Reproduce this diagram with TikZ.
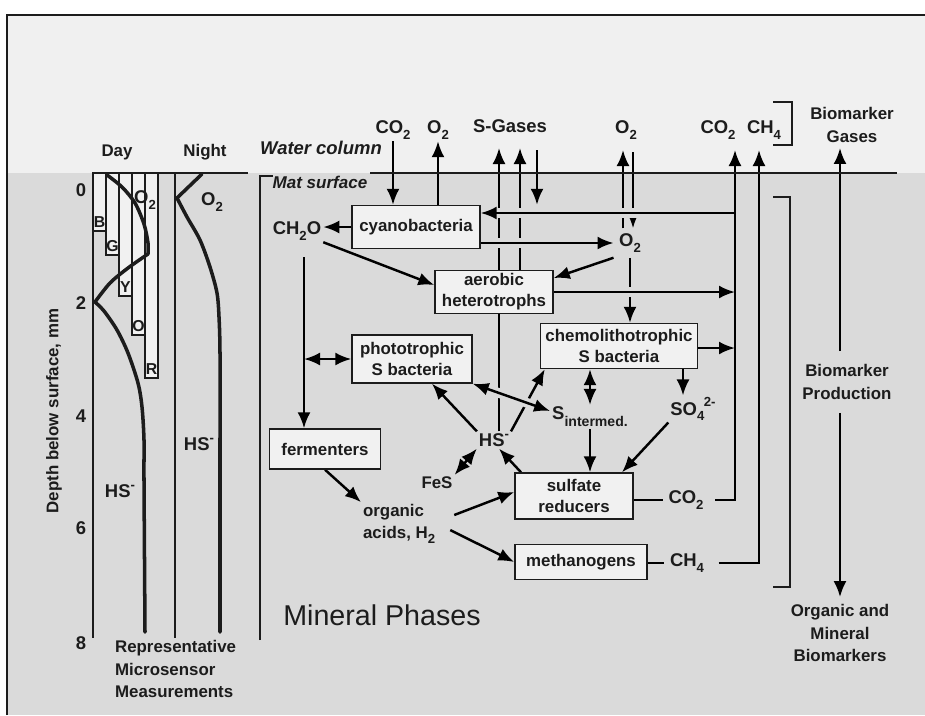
\documentclass[tikz,border=0pt]{standalone}
\usepackage{fontspec}
\setmainfont{Liberation Sans}
\usetikzlibrary{arrows.meta,backgrounds}
\pgfdeclarelayer{lines}
\pgfsetlayers{background,lines,main}

\definecolor{skygray}{HTML}{F0F0F0}
\definecolor{matgray}{HTML}{DADADA}
\definecolor{boxfill}{HTML}{F1F1F1}
\definecolor{ink}{HTML}{1C1C1C}

\newcommand\subs[1]{\raisebox{-0.55ex}{\fontsize{7.5}{8}\selectfont #1}}
\newcommand\sups[1]{\raisebox{0.85ex}{\fontsize{7.5}{8}\selectfont #1}}

\tikzset{
  box/.style={draw=ink, fill=boxfill, line width=0.8pt, align=center, inner sep=0pt,
    font=\bfseries\fontsize{9.6}{12}\selectfont},
  lbl/.style={inner sep=1pt, align=center, font=\bfseries\fontsize{9.6}{12.7}\selectfont},
  lblbig/.style={inner sep=1pt, font=\bfseries\fontsize{10.5}{12}\selectfont},
  num/.style={inner sep=1pt, font=\bfseries\fontsize{10.5}{12}\selectfont},
  flow/.style={line width=1.4pt, -{Latex[length=3.2mm,width=2.6mm]}},
  twoway/.style={line width=1.4pt, {Latex[length=3.2mm,width=2.6mm]}-{Latex[length=3.2mm,width=2.6mm]}},
  link/.style={line width=1.4pt},
  halo/.style={preaction={draw=matgray, line width=5.5pt, -}},
  profile/.style={line width=2pt, line join=round, line cap=round},
  bar/.style={draw=ink, fill=boxfill, line width=0.6pt},
}

\begin{document}
\begin{tikzpicture}[x=0.2mm, y=-0.2mm, color=ink]
  \useasboundingbox (0,0) rectangle (925,715);

  % Background
  \begin{pgfonlayer}{background}
    \fill[white] (0,0) rectangle (925,715);
    \fill[skygray] (7,15) rectangle (925,173);
    \fill[matgray] (7,173) rectangle (925,715);
  \end{pgfonlayer}
  \draw[line width=1.1pt] (7,715) -- (7,15) -- (925,15);

  % Mat surface
  \draw[line width=1.3pt] (93,173) -- (248,173);
  \draw[line width=1.1pt] (370,173) -- (897,173);
  \draw[line width=1.3pt] (260,640) -- (260,176) -- (273,176);

  % Light penetration bars
  \foreach \x/\d/\c in {93/231/B,106/255/G,119/296/Y,132/335/O,145/378/R}{
    \draw[bar] (\x,173) rectangle (\x+13,\d);
    \node (bar\c) at (\x+6.5,\d-9) [lbl, font=\bfseries\fontsize{9}{10}\selectfont] {\c};
  }

  % Profile panels
  \draw[line width=1.3pt] (93,173) -- (93,638);
  \draw[line width=1.3pt] (175,173) -- (175,638);

  % Day profile
  \draw[profile] plot[smooth] coordinates {(107,175) (122,187) (135,203) (144,224) (148,243) (148,254)};
  \draw[profile] plot[smooth] coordinates {(148,254) (128,268) (110,283) (95,302)};
  \draw[profile] plot[smooth] coordinates {(95,302) (104,311) (117,330) (128,353) (138,383) (142,407) (144,440) (144,480) (145,632)};

  % Night profile
  \draw[profile] (202,174) -- (177,198);
  \draw[profile] plot[smooth] coordinates {(177,198) (187,217) (200,240) (210,267) (217,293) (219,317) (220,353) (220,450) (220,632)};

  % Depth axis and panel labels
  \foreach \v/\y in {0/190,2/303,4/416,6/528,8/643}
    \node (depth\v) at (81,\y) [num] {\v};
  \node (depthtitle) at (54,411) [lbl, rotate=90] {Depth below surface, mm};
  \node (day) at (117,152) [lbl] {Day};
  \node (night) at (205,152) [lbl] {Night};
  \node (o2day) at (145,200) [lblbig] {O\subs{2}};
  \node (o2night) at (212,202) [lblbig] {O\subs{2}};
  \node (hsday) at (120,491) [lblbig] {HS\sups{-}};
  \node (hsnight) at (199,444) [lblbig] {HS\sups{-}};
  \node (sensors) at (113,669) [lbl, anchor=west, align=left] {Representative\\Microsensor\\Measurements};

  % Water column labels
  \node (water) at (321,148) [font=\bfseries\itshape\fontsize{10.5}{12}\selectfont] {Water column};
  \node (matsurf) at (320,182) [font=\bfseries\itshape\fontsize{9.7}{12}\selectfont] {Mat surface};
  \node (co2a) at (393,130) [lblbig] {CO\subs{2}};
  \node (o2a) at (438,130) [lblbig] {O\subs{2}};
  \node (sgas) at (510,126) [lblbig] {S-Gases};
  \node (o2b) at (626,130) [lblbig] {O\subs{2}};
  \node (co2b) at (718,130) [lblbig] {CO\subs{2}};
  \node (ch4b) at (764,130) [lblbig] {CH\subs{4}};
  \node (gases) at (852,125) [lbl, inner sep=3pt] {Biomarker\\Gases};

  % Microbial groups
  \node (cyano) at (416,227) [box, minimum width=25.6mm, minimum height=8.6mm] {cyanobacteria};
  \node (aerobic) at (494,292) [box, minimum width=23.6mm, minimum height=8.6mm] {aerobic\\heterotrophs};
  \node (photo) at (412,359) [box, minimum width=24mm, minimum height=9.6mm] {phototrophic\\S bacteria};
  \node (chemo) at (619,346) [box, minimum width=31.4mm, minimum height=9mm] {chemolithotrophic\\S bacteria};
  \node (ferm) at (325,449) [box, minimum width=22.2mm, minimum height=8mm] {fermenters};
  \node (sulfred) at (574,496) [box, minimum width=23.6mm, minimum height=9.2mm] {sulfate\\reducers};
  \node (methano) at (581,562) [box, minimum width=26.4mm, minimum height=7mm] {methanogens};

  % Compounds in the mat
  \node (ch2o) at (297,231) [lblbig] {CH\subs{2}O};
  \node (o2mid) at (630,243) [lblbig, inner sep=3pt] {O\subs{2}};
  \node (hs) at (494,440) [lblbig] {HS\sups{-}};
  \node (sint) at (590,417) [lblbig] {S\raisebox{-0.7ex}{\fontsize{8}{9}\selectfont intermed.}};
  \node (so4) at (693,409) [lblbig] {SO\subs{4}\hspace{-0.3pt}\sups{2-}};
  \node (fes) at (437,483) [lbl] {FeS};
  \node (orgac) at (361,524) [lbl, anchor=west, align=left] {organic\\acids, H\subs{2}};
  \node (co2sr) at (686,500) [lblbig, inner sep=3pt] {CO\subs{2}};
  \node (ch4m) at (687,563) [lblbig, inner sep=3pt] {CH\subs{4}};
  \node (mineral) at (382,615) [font=\fontsize{16.3}{18}\selectfont] {Mineral Phases};
  \node (prod) at (847,382) [lbl, inner xsep=1pt, inner ysep=7.5pt] {Biomarker\\Production};
  \node (orgmin) at (840,633) [lbl, inner sep=4pt] {Organic and\\Mineral\\Biomarkers};

  % Brackets
  \draw[line width=1pt] (773,102) -- (792,102) -- (792,145) -- (773,145);
  \draw[line width=1pt] (773,197) -- (790,197) -- (790,587) -- (773,587);

  % Free ends
  \coordinate (sgasL) at (499,148);
  \coordinate (sgasR) at (520,148);
  \coordinate (sgasIn) at (537,150);
  \coordinate (o2out) at (623,150);
  \coordinate (o2in) at (633,152);
  \coordinate (co2rise) at (735,150);
  \coordinate (ch4rise) at (759,150);
  \coordinate (co2branch) at (735,213);
  \coordinate (hetout) at (735,292);
  \coordinate (chemout) at (735,348);
  \coordinate (ch2ofall) at (304,257);

  \begin{pgfonlayer}{lines}
    % lines that are hopped over
    \draw[flow] (hs.north -| sgasL) -- (sgasL);
    \draw[flow] (aerobic.north -| sgasR) -- (sgasR);
    \draw[flow] (sgasIn) -- (cyano.north -| sgasIn);
    \draw[flow] (o2mid.north -| o2out) -- (o2out);
    \draw[flow] (o2in) -- (o2mid.north -| o2in);
    \draw[flow] (o2mid) -- (o2mid |- chemo.north);
    \draw[flow] ([xshift=3.4mm]hs.north) -- ([xshift=1mm]chemo.south west);

    % lines that hop
    \draw[flow, halo] (co2branch) -- (cyano.east |- co2branch);
    \draw[flow, halo] (cyano.east |- o2mid) -- (o2mid);
    \draw[flow, halo] (aerobic.east |- hetout) -- (hetout);
    \draw[twoway, halo] (photo.south east) -- ([yshift=1.2mm]sint.west);

    % Carbon and oxygen
    \draw[flow] (co2a) -- (co2a |- cyano.north);
    \draw[flow] (cyano.north -| o2a) -- (o2a);
    \draw[flow] (cyano.west) -- (cyano.west -| ch2o.east);
    \draw[flow] (ch2o.south east) -- ([yshift=1.4mm]aerobic.west);
    \draw[flow] (ch2ofall) -- (ch2ofall |- ferm.north);
    \draw[twoway] (ch2ofall |- photo.west) -- (photo.west);
    \draw[flow] (o2mid.south west) -- ([yshift=2.8mm]aerobic.east);
    \draw[flow] (chemo.east |- chemout) -- (chemout);

    % Sulfur
    \draw[flow] (hs.north west) -- ([xshift=4mm]photo.south);
    \draw[twoway] (chemo.south -| sint) -- (sint.north);
    \draw[flow] ([xshift=12.8mm]chemo.south) -- ([xshift=12.8mm]chemo.south |- so4.north);
    \draw[flow] (sint) -- (sint |- sulfred.north);
    \draw[flow] (so4.south west) -- ([xshift=9.6mm]sulfred.north);
    \draw[flow] ([xshift=-10.6mm]sulfred.north) -- ([xshift=1mm]hs.south);
    \draw[twoway] (fes.north east) -- (hs.south west);

    % Fermentation products
    \draw[flow] (ferm.south) -- (orgac.north west);
    \draw[flow] ([xshift=3.4mm,yshift=1.8mm]orgac.east) -- ([yshift=0.8mm]sulfred.west);
    \draw[flow] ([xshift=2.6mm,yshift=-1.2mm]orgac.east) -- (methano.west);
    \draw[link] (sulfred.east |- co2sr) -- (co2sr.west);
    \draw[link] (methano.east |- ch4m) -- (ch4m.west);

    % Gases out of the mat
    \draw[flow] ([xshift=1.2mm]co2sr.east) -| (co2rise);
    \draw[flow] ([xshift=1.8mm]ch4m.east) -| (ch4rise);
    \draw[flow] (prod.north -| orgmin) -- (gases.south -| orgmin);
    \draw[flow] (prod.south -| orgmin) -- (orgmin);
  \end{pgfonlayer}
\end{tikzpicture}
\end{document}
